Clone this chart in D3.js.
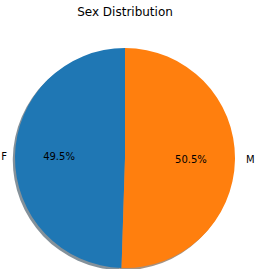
<!DOCTYPE html>
<html><head><meta charset="utf-8">
<script src="https://cdn.jsdelivr.net/npm/d3@7"></script>
<style>body{margin:0;background:#fff}svg{display:block}</style>
</head><body>
<script>
const categories = ["F", "M"];
const values = [49.5, 50.5];
const colors = ["#1f77b4", "#ff7f0e"];
const title = "Sex Distribution";

const W = 258, H = 269, cx = 125, cy = 158, R = 110;
const svg = d3.select("body").append("svg").attr("width", W).attr("height", H);
svg.append("rect").attr("width", W).attr("height", H).attr("fill", "#fff");
svg.append("text").attr("x", 125).attr("y", 16).attr("text-anchor", "middle")
  .attr("font-family", "DejaVu Sans").attr("font-size", 12).text(title);

// matplotlib: startangle 90, counterclockwise
const pie = d3.pie().sort(null).value(d => d)
  .startAngle(0).endAngle(-2 * Math.PI);
const arcs = pie(values);
const arc = d3.arc().innerRadius(0).outerRadius(R);

const sh = svg.append("g").attr("transform", `translate(${cx - 2.2},${cy + 2.2})`);
arcs.forEach((a, i) => {
  const c = d3.rgb(colors[i]);
  sh.append("path").attr("d", arc(a))
    .attr("fill", d3.rgb(c.r * 0.3, c.g * 0.3, c.b * 0.3)).attr("fill-opacity", 0.5);
});
const g = svg.append("g").attr("transform", `translate(${cx},${cy})`);
arcs.forEach((a, i) => {
  g.append("path").attr("d", arc(a)).attr("fill", colors[i]);
});
arcs.forEach((a, i) => {
  const mid = (a.startAngle + a.endAngle) / 2;
  const sx = Math.sin(mid), sy = -Math.cos(mid);
  let lx = 1.1 * R * sx;
  if (sx < 0) lx = Math.max(lx, 7 - cx);
  g.append("text").attr("x", lx).attr("y", 1.1 * R * sy)
    .attr("dy", "0.35em").attr("text-anchor", sx > 0 ? "start" : "end")
    .attr("font-family", "DejaVu Sans").attr("font-size", 10).text(categories[i]);
  g.append("text").attr("x", 0.6 * R * sx).attr("y", 0.6 * R * sy)
    .attr("dy", "0.35em").attr("text-anchor", "middle")
    .attr("font-family", "DejaVu Sans").attr("font-size", 10)
    .text(values[i].toFixed(1) + "%");
});
</script>
</body></html>
